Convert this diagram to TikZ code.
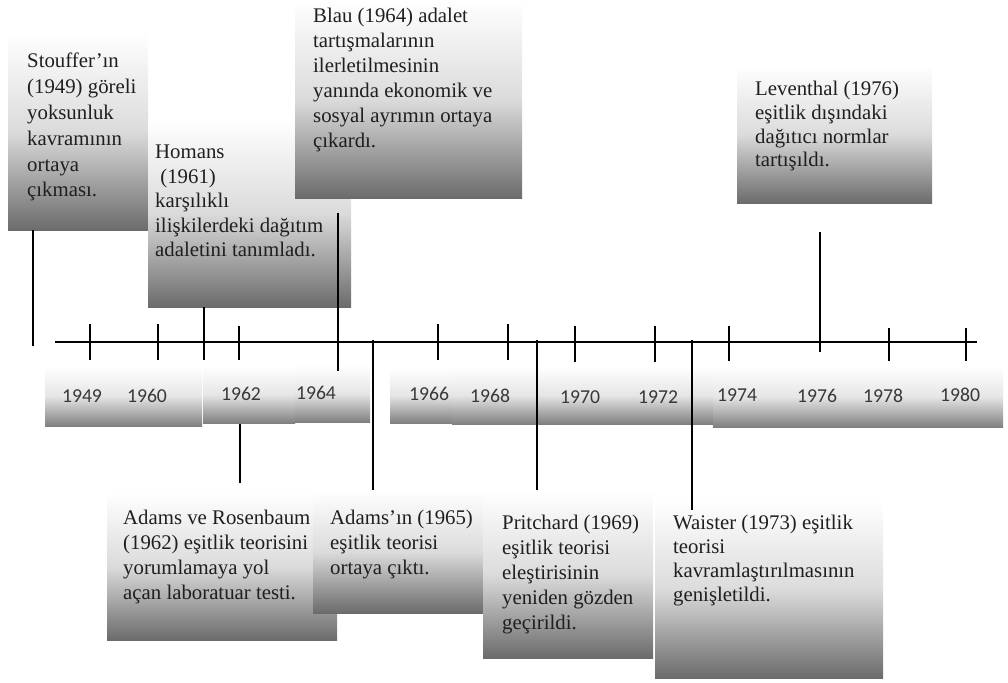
\documentclass[tikz,border=0pt]{standalone}
\usepackage{fontspec}
\setmainfont{Liberation Serif}
\newfontfamily\yearfont{Carlito}
\usepackage{tikz}

\tikzset{
  evbox/.style={anchor=north west, inner sep=0pt, top color=white, bottom color=black!58, middle color=black!14},
  evtext/.style={anchor=north west, inner sep=0pt, align=left, text=black!88, font=\fontsize{20.8}{25}\selectfont},
  yearband/.style={anchor=north west, inner sep=0pt, top color=white, bottom color=black!50, middle color=black!10},
  yearlbl/.style={inner sep=0pt, text=black!78, font=\yearfont\fontsize{19.7}{22}\selectfont},
  conn/.style={line width=2.6pt},
  axisline/.style={line width=2.8pt},
}

\begin{document}
\begin{tikzpicture}[x=1pt,y=-1pt]
            \useasboundingbox (0,0) rectangle (1008,682);

            % boxes above the axis
            \node[evbox, minimum width=140pt, minimum height=198pt] (stoufferbox) at (8,32) {};
            \node[evtext, font=\fontsize{20.8}{25.8}\selectfont] (stouffer) at (27,53) {Stouffer’ın\\(1949) göreli\\yoksunluk\\kavramının\\ortaya\\çıkması.};
            \node[evbox, minimum width=203pt, minimum height=189pt] (homansbox) at (148,118) {};
            \node[evtext, font=\fontsize{20.8}{24.5}\selectfont] (homans) at (155,145) {Homans\\\hspace{0.25em}(1961)\\karşılıklı\\ilişkilerdeki dağıtım\\adaletini tanımladı.};
            \node[evbox, minimum width=227pt, minimum height=198pt] (blaubox) at (295,0) {};
            \node[evtext] (blau) at (313,8) {Blau (1964) adalet\\tartışmalarının\\ilerletilmesinin\\yanında ekonomik ve\\sosyal ayrımın ortaya\\çıkardı.};
            \node[evbox, minimum width=195pt, minimum height=138pt] (leventhalbox) at (737,65) {};
            \node[evtext, font=\fontsize{20.8}{23.7}\selectfont] (leventhal) at (755,81) {Leventhal (1976)\\eşitlik dışındaki\\dağıtıcı normlar\\tartışıldı.};

            % axis and ticks
            \coordinate (axl) at (55,342);
            \coordinate (axr) at (977,342);
            \draw[axisline] (axl) -- (axr);
            \draw[conn] (90,324) -- (90,360); % 1949
            \draw[conn] (158,324) -- (158,360); % 1960
            \draw[conn] (239,326) -- (239,360); % 1962
            \draw[conn] (438,324) -- (438,360); % 1966
            \draw[conn] (508,324) -- (508,360); % 1968
            \draw[conn] (575,326) -- (575,362); % 1970
            \draw[conn] (655,326) -- (655,362); % 1972
            \draw[conn] (729,326) -- (729,361); % 1974
            \draw[conn] (889,328) -- (889,361); % 1978
            \draw[conn] (966,328) -- (966,361); % 1980

            % year bands
            \node[yearband, minimum width=157pt, minimum height=60pt] (band1) at (45,366) {};
            \node[yearband, minimum width=92pt, minimum height=57pt] (band2) at (203,366) {};
            \node[yearband, minimum width=75pt, minimum height=57pt] (band3) at (295,365) {};
            \node[yearband, minimum width=62pt, minimum height=56pt] (band4) at (390,367) {};
            \node[yearband, minimum width=261pt, minimum height=58pt] (band5) at (452,366) {};
            \node[yearband, minimum width=290pt, minimum height=61pt] (band6) at (713,366) {};

            \node[yearlbl] (y1949) at (82,396) {1949};
            \node[yearlbl] (y1960) at (147,396) {1960};
            \node[yearlbl] (y1962) at (241,394) {1962};
            \node[yearlbl] (y1964) at (316,393) {1964};
            \node[yearlbl] (y1966) at (429,394) {1966};
            \node[yearlbl] (y1968) at (490,396) {1968};
            \node[yearlbl] (y1970) at (580,397) {1970};
            \node[yearlbl] (y1972) at (658,397) {1972};
            \node[yearlbl] (y1974) at (737,395) {1974};
            \node[yearlbl] (y1976) at (817,396) {1976};
            \node[yearlbl] (y1978) at (883,396) {1978};
            \node[yearlbl] (y1980) at (960,395) {1980};

            % boxes below the axis
            \node[evbox, minimum width=230pt, minimum height=148pt] (adrosbox) at (107,492) {};
            \node[evtext] (adros) at (123,510) {Adams ve Rosenbaum\\(1962) eşitlik teorisini\\yorumlamaya yol\\açan laboratuar testi.};
            \node[evbox, minimum width=170pt, minimum height=123pt] (adamsbox) at (313,490) {};
            \node[evtext] (adams) at (330,510) {Adams’ın (1965)\\eşitlik teorisi\\ortaya çıktı.};
            \node[evbox, minimum width=170pt, minimum height=168pt] (pritchardbox) at (483,490) {};
            \node[evtext] (pritchard) at (502,515) {Pritchard (1969)\\eşitlik teorisi\\eleştirisinin\\yeniden gözden\\geçirildi.};
            \node[evbox, minimum width=228pt, minimum height=178pt] (waisterbox) at (655,500) {};
            \node[evtext, font=\fontsize{20.8}{24}\selectfont] (waister) at (673,515) {Waister (1973) eşitlik\\teorisi\\kavramlaştırılmasının\\genişletildi.};

            % connectors
            \coordinate (c49) at (33,346);
            \coordinate (c61) at (204,360);
            \coordinate (c64) at (338,371);
            \coordinate (c64s) at (338,213);
            \coordinate (c62) at (240,424);
            \coordinate (c62e) at (240,483);
            \coordinate (c65) at (373,340);
            \coordinate (c69) at (537,340);
            \coordinate (c73) at (692,340);
            \coordinate (c73e) at (692,510);
            \coordinate (c76) at (820,352);
            \coordinate (c76s) at (820,232);

            \draw[conn] (stoufferbox.south -| c49) -- (c49); % stouffer
            \draw[conn] (homansbox.south -| c61) -- (c61); % homans
            \draw[conn] (c64s) -- (c64); % blau
            \draw[conn] (c76s) -- (c76); % leventhal
            \draw[conn] (c62) -- (c62e); % adams-rosenbaum
            \draw[conn] (c65) -- (adamsbox.north -| c65); % adams
            \draw[conn] (c69) -- (pritchardbox.north -| c69); % pritchard
            \draw[conn] (c73) -- (c73e); % waister
        \end{tikzpicture}
\end{document}
